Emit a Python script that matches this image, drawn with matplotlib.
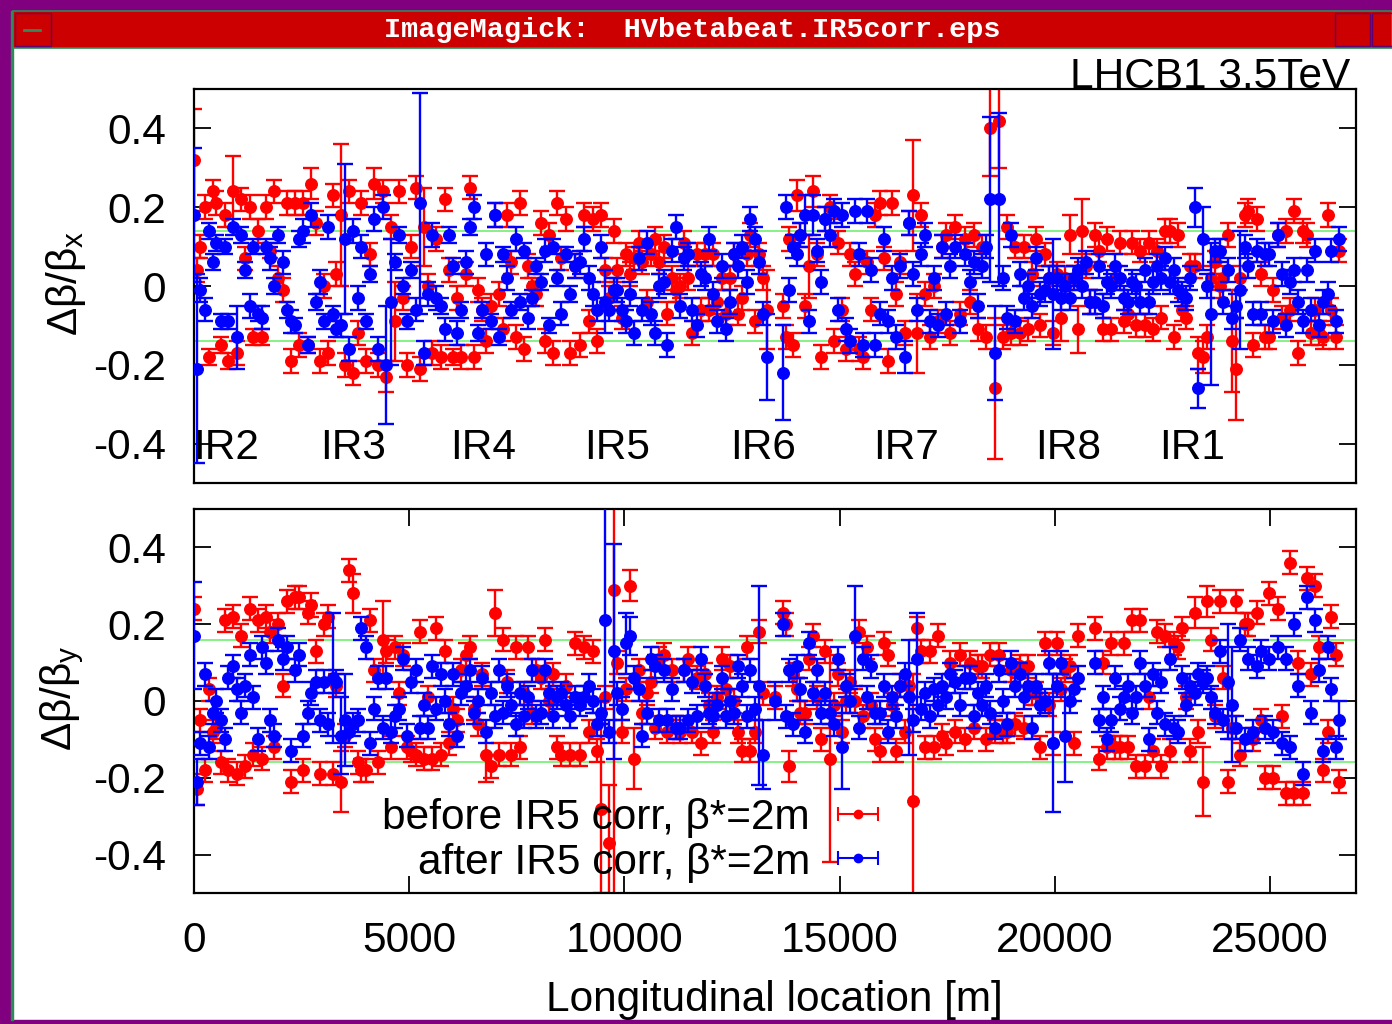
import numpy as np
import matplotlib
matplotlib.use('Agg')
import matplotlib.pyplot as plt
from matplotlib.patches import Rectangle

nan = float('nan')

# BPM positions [m], shared by both planes
s_pos = [
    5, 60, 150, 250, 340, 440,
    520, 620, 710, 800, 900, 1000,
    1100, 1190, 1290, 1380, 1480, 1570,
    1680, 1770, 1870, 1960, 2060, 2150,
    2260, 2350, 2450, 2540, 2640, 2730,
    2840, 2930, 3030, 3120, 3220, 3310,
    3420, 3510, 3610, 3700, 3800, 3890,
    4000, 4090, 4190, 4280, 4380, 4470,
    4580, 4670, 4770, 4860, 4960, 5050,
    5160, 5250, 5350, 5440, 5540, 5630,
    5740, 5830, 5930, 6020, 6120, 6210,
    6320, 6410, 6510, 6600, 6700, 6790,
    6900, 6990, 7090, 7180, 7280, 7370,
    7480, 7570, 7670, 7760, 7860, 7950,
    8060, 8150, 8250, 8340, 8440, 8530,
    8640, 8740, 8850,
    8980, 9070, 9170, 9260, 9360, 9450,
    9560, 9650, 9750, 9840, 9940, 10030,
    10140, 10230, 10330, 10420, 10520, 10610,
    10720, 10810, 10910, 11000, 11100, 11190,
    11300, 11390, 11490, 11580, 11680, 11770,
    11880, 11970, 12070, 12160, 12260, 12350,
    12460, 12550, 12650, 12740, 12840, 12930,
    13040, 13130, 13230, 13320, 13420, 13510,
    13680, 13750, 13830, 13910, 14000, 14090,
    14200, 14290, 14390, 14480, 14580, 14670,
    14780, 14870, 14970, 15060, 15160, 15250,
    15360, 15450, 15550, 15640, 15740, 15830,
    15940, 16030, 16130, 16220, 16320, 16410,
    16520, 16610, 16710, 16800, 16900, 16990,
    17100, 17190, 17290, 17380, 17480, 17570,
    17690, 17800, 17910,
    18030, 18120, 18220, 18310, 18410, 18500,
    18610, 18700, 18800, 18890, 18990, 19080,
    19190, 19280, 19380, 19470, 19570, 19660,
    19770, 19860, 19960, 20050, 20150, 20240,
    20350, 20440, 20540, 20630, 20730, 20820,
    20930, 21020, 21120, 21210, 21310, 21400,
    21510, 21600, 21700, 21790, 21890, 21980,
    22090, 22180, 22280, 22370, 22470, 22560,
    22670, 22760, 22860, 22950, 23050, 23140,
    23250, 23340, 23440, 23530, 23630, 23720,
    23830, 23920, 24020, 24110, 24210, 24300,
    24410, 24500, 24600, 24690, 24790, 24880,
    24990, 25080, 25180, 25270, 25370, 25460,
    25570, 25660, 25760, 25850, 25950, 26040,
    26150, 26240, 26340, 26430, 26530, 26610,
]

# horizontal beta-beating, values in percent
bx_before = [
    32, 4, 10, 20, -18, 24,
    21, -15, 18, -19, 24, -17,
    22, 7, 20, -13, 14, -13,
    20, 9, 24, 2, -1, 21,
    -19, 21, -15, 21, -15, 26,
    16, -19, 0, -17, 23, 3,
    18, -20, 24, -22, -12, 21,
    -19, 8, 26, -20, 24, -23,
    15, -9, 24, -3, -20, 10,
    25, -21, 15, 0, -17, 12,
    -18, 22, 4, -18, -3, -18,
    3, 25, -18, -1, -6, -14,
    -5, 18, -2, -11, 18, 6,
    -13, 21, -16, 5, 0, -2,
    16, -14, 13, -17, 21, 7,
    17, -17, 5,
    -15, 18, -9, 17, -14, 18,
    4, -3, 14, 4, -8, 8,
    3, 7, 11, 6, -4, 8,
    12, 6, 10, -7, 2, -1,
    0, 11, 2, -12, 8, -6,
    8, -6, 8, -4, 2, -7,
    2, 8, -7, -3, 8, 13,
    -9, 8, 2, -6, nan, nan,
    -5, -13, 12, -15, 23, 13,
    -5, 5, 24, 8, -18, 17,
    20, -14, 11, -6, -16, 8,
    3, -16, -18, 6, -6, 18,
    21, 7, -19, 21, -2, 6,
    -12, 16, 23, -12, 18, -2,
    -13, 0, -9, 10, 13, -12,
    15, -7, 12,
    -4, 13, -11, 10, -13, 40,
    -26, 42, -13, 15, -12, 10,
    -12, 10, -11, 3, 12, -10,
    8, 2, -12, 3, -8, 2,
    13, 2, -11, 14, 5, -4,
    13, 9, -11, 12, -11, 2,
    11, -9, -7, 11, -10, 9,
    -10, 11, -11, 9, -8, 14,
    14, -13, 13, -6, -8, 5,
    5, -17, -18, -13, 2, 6,
    0, 2, 13, -14, -21, 2,
    18, 19, -15, 17, 3, -13,
    -13, -1, 13, -8, 14, -6,
    19, -17, 14, 13, -12, -6,
    -12, -13, 18, -6, -13, 9,
]
bx_before_err = [
    13, 3, 3, 3, 2, 3,
    3, 2, 3, 2, 9, 3,
    3, 3, 3, 2, 3, 2,
    3, 2, 3, 3, 3, 3,
    3, 3, 3, 3, 2, 4,
    3, 3, 3, 3, 3, 3,
    18, 3, 3, 3, 3, 3,
    3, 3, 4, 3, 3, 4,
    3, 10, 3, 3, 3, 3,
    3, 3, 10, 3, 3, 3,
    3, 3, 3, 2, 3, 3,
    3, 3, 3, 3, 3, 3,
    3, 3, 3, 3, 3, 3,
    3, 3, 3, 3, 2, 3,
    3, 3, 3, 3, 3, 3,
    3, 3, 3,
    3, 3, 3, 3, 3, 3,
    3, 3, 3, 3, 3, 3,
    3, 3, 3, 3, 3, 3,
    3, 3, 3, 3, 3, 3,
    3, 3, 3, 3, 3, 3,
    3, 3, 3, 3, 3, 3,
    3, 3, 3, 3, 3, 3,
    3, 3, 3, 10, 3, 3,
    3, 3, 3, 3, 4, 3,
    3, 8, 4, 3, 3, 3,
    3, 3, 3, 3, 3, 3,
    3, 3, 3, 3, 3, 3,
    3, 3, 3, 3, 3, 3,
    3, 3, 14, 10, 3, 3,
    3, 3, 3, 3, 3, 3,
    3, 3, 3,
    3, 3, 3, 3, 3, 12,
    18, 12, 3, 3, 3, 3,
    3, 3, 3, 3, 3, 3,
    3, 3, 3, 3, 6, 3,
    5, 3, 6, 8, 3, 3,
    3, 3, 3, 3, 3, 3,
    3, 3, 3, 3, 3, 3,
    3, 3, 3, 3, 3, 3,
    3, 3, 3, 3, 3, 3,
    3, 4, 4, 3, 3, 3,
    3, 3, 3, 13, 13, 3,
    3, 3, 3, 3, 3, 3,
    3, 3, 3, 3, 3, 3,
    3, 3, 3, 3, 3, 3,
    3, 3, 3, 3, 3, 3,
]
bx_after = [
    18, -21, -1, -6, 14, 6,
    11, -9, 10, -9, 15, -13,
    13, 4, -5, 10, -7, -8,
    10, 7, 0, 13, 6, -6,
    -9, -10, 12, 14, -15, 18,
    -4, 1, -9, 15, -7, -11,
    -10, 12, -16, 14, -3, 10,
    -9, 3, 17, -16, 20, -20,
    -4, 6, 13, 0, -9, 4,
    -6, 21, -17, -2, 13, -3,
    -5, -11, 13, 5, -12, -6,
    6, 15, 20, -12, -6, 8,
    -9, 18, -13, 8, 2, -6,
    12, -4, 9, -8, -3, 5,
    1, 9, -10, 10, 2, -7,
    8, -2, 5,
    6, 12, 2, -2, -6, 10,
    -4, -6, -1, -1, -6, -9,
    -2, -12, 7, -6, 11, -7,
    -12, 0, 1, -15, 9, 15,
    -5, 7, 8, -6, -10, 3,
    2, 12, -2, -9, 5, -11,
    -4, 8, 5, 10, 1, 17,
    12, 6, -7, -18, nan, nan,
    -22, 20, -1, 10, 8, 13,
    18, -9, 18, 9, 1, 17,
    13, 19, -6, 18, -11, -14,
    19, 8, -15, 19, 4, -15,
    -7, 12, -9, 2, -13, 5,
    -18, 16, 3, -6, 8, 13,
    -9, 2, -10, 10, -7, 5,
    10, -9, 8,
    1, 6, -5, 5, 10, 22,
    -17, 22, 2, -8, 13, -9,
    3, -3, 0, -5, 7, -2,
    -1, 2, -2, 2, -3, 0,
    -3, 2, 4, 0, 6, -4,
    -4, 5, -5, 1, 0, 5,
    2, -3, -4, 1, 0, -4,
    4, -4, 1, 5, 2, 7,
    1, 4, -1, -2, -3, 2,
    20, -26, 12, 0, -7, 9,
    9, -4, 4, -8, -5, -1,
    10, 5, -7, 9, -7, 8,
    8, -9, 13, 3, -10, 1,
    4, -4, -9, 4, -6, 9,
    -10, -4, -2, 9, -9, 12,
]
bx_after_err = [
    17, 24, 3, 3, 2, 2,
    2, 2, 2, 2, 2, 8,
    2, 2, 3, 2, 2, 3,
    2, 3, 2, 2, 3, 2,
    3, 2, 2, 3, 2, 3,
    2, 3, 2, 3, 2, 2,
    3, 19, 3, 3, 3, 3,
    2, 2, 3, 3, 3, 15,
    16, 2, 2, 2, 2, 2,
    3, 28, 3, 3, 3, 3,
    2, 3, 2, 2, 3, 2,
    3, 2, 3, 2, 2, 3,
    2, 3, 2, 2, 3, 2,
    3, 2, 2, 3, 2, 2,
    2, 3, 2, 2, 2, 3,
    2, 2, 3,
    3, 3, 3, 3, 3, 3,
    8, 3, 3, 3, 3, 3,
    3, 3, 3, 3, 3, 3,
    3, 3, 3, 3, 3, 3,
    3, 3, 3, 3, 3, 3,
    3, 3, 3, 3, 3, 3,
    3, 3, 3, 3, 3, 3,
    3, 3, 3, 11, 3, 3,
    12, 3, 3, 3, 3, 3,
    5, 3, 5, 3, 3, 3,
    3, 3, 3, 3, 3, 3,
    3, 3, 3, 3, 3, 3,
    3, 3, 3, 3, 3, 3,
    4, 3, 3, 3, 3, 3,
    3, 3, 3, 3, 3, 3,
    3, 3, 3,
    3, 3, 3, 3, 3, 21,
    12, 22, 3, 3, 3, 3,
    3, 3, 3, 3, 3, 3,
    3, 3, 14, 3, 3, 3,
    3, 3, 3, 3, 3, 3,
    3, 3, 3, 3, 3, 3,
    3, 3, 3, 3, 3, 3,
    3, 3, 3, 3, 3, 3,
    3, 3, 3, 3, 3, 3,
    5, 5, 8, 3, 18, 3,
    3, 3, 3, 3, 3, 15,
    3, 3, 3, 3, 3, 3,
    3, 3, 3, 3, 3, 3,
    3, 3, 3, 3, 3, 3,
    3, 3, 3, 3, 3, 3,
]

# vertical beta-beating, values in percent
by_before = [
    24, -23, -5, -18, 3, -8,
    -7, -16, 21, -18, 22, -19,
    17, -17, 24, -14, 21, -15,
    22, 18, -12, 20, 4, 26,
    -21, 27, 27, -18, 23, 25,
    13, -19, 20, 22, -19, 4,
    -21, -9, 34, 28, -16, -18,
    -18, 21, 8, -16, 16, 13,
    -12, 14, 2, 12, -12, -13,
    -14, 18, -15, 1, -15, 19,
    -14, 13, -11, -2, -5, 8,
    12, 14, -2, -6, 7, -14,
    -17, 23, -14, 16, 5, -14,
    14, -12, 2, 14, -3, 8,
    6, 16, 0, 7, -12, -14,
    4, -14, 15,
    -14, 14, -8, 13, -13, -28,
    1, -37, 29, 10, -8, 3,
    30, -15, 8, -3, 2, 5,
    -7, 11, 12, -8, 8, -7,
    -8, 8, 11, -8, 6, -11,
    7, -1, -8, 1, 11, 3,
    9, 0, -8, -13, 14, -13,
    -8, 18, 2, nan, nan, 1,
    23, 20, -17, 7, 3, -3,
    -3, 11, 17, 1, -10, 13,
    -15, -1, 7, -8, 0, 5,
    0, 18, -4, 14, -1, -10,
    -13, 15, 12, -1, -13, 4,
    -8, 4, -26, 19, 13, -12,
    13, -12, 17, -9, -11, 10,
    -8, 12, -10,
    10, -7, 9, 9, -10, 12,
    -8, 12, -8, -8, 8, -6,
    9, -7, 9, 2, 2, -12,
    15, -1, -11, 15, 3, 8,
    9, -11, 17, nan, nan, nan,
    19, -15, 10, -12, 15, -12,
    -12, 15, -12, 21, -17, 21,
    -17, 1, -13, 18, -17, 17,
    -13, 15, 14, 19, 1, -13,
    23, -8, -21, 26, 16, -4,
    26, 6, -21, -7, 26, -14,
    20, 20, -10, 23, -5, -20,
    28, -20, 24, -4, -24, 36,
    -24, 10, -24, 32, 7, 30,
    14, -18, -8, 22, 12, -21,
]
by_before_err = [
    3, 4, 3, 3, 3, 3,
    3, 3, 3, 3, 3, 3,
    3, 3, 3, 3, 3, 3,
    3, 3, 3, 3, 3, 3,
    3, 3, 3, 3, 3, 3,
    3, 3, 3, 3, 3, 3,
    8, 3, 3, 5, 3, 3,
    3, 3, 3, 3, 10, 3,
    3, 3, 3, 3, 3, 3,
    3, 3, 3, 3, 3, 3,
    3, 3, 3, 3, 3, 3,
    3, 3, 3, 3, 3, 7,
    3, 6, 3, 3, 3, 3,
    3, 3, 3, 3, 3, 3,
    3, 3, 3, 3, 3, 3,
    3, 3, 3,
    3, 3, 3, 3, 3, 22,
    3, 15, 80, 3, 3, 3,
    4, 8, 3, 3, 3, 3,
    3, 3, 3, 3, 3, 3,
    3, 3, 3, 3, 3, 3,
    3, 3, 3, 3, 3, 3,
    3, 3, 3, 3, 3, 3,
    3, 3, 3, 3, 3, 3,
    3, 3, 4, 3, 3, 3,
    3, 3, 3, 3, 3, 3,
    27, 3, 3, 3, 3, 3,
    3, 3, 3, 3, 3, 3,
    3, 3, 3, 3, 3, 3,
    3, 3, 33, 3, 3, 3,
    3, 3, 3, 3, 3, 3,
    3, 3, 3,
    3, 3, 3, 3, 3, 3,
    3, 3, 3, 3, 3, 3,
    3, 3, 3, 3, 3, 3,
    3, 3, 3, 3, 3, 3,
    3, 3, 3, 3, 3, 3,
    3, 3, 3, 3, 3, 3,
    3, 3, 3, 3, 3, 3,
    3, 3, 3, 3, 3, 3,
    3, 3, 3, 3, 3, 3,
    4, 3, 9, 4, 3, 3,
    3, 3, 3, 3, 3, 3,
    3, 3, 3, 3, 3, 3,
    3, 3, 3, 3, 3, 3,
    3, 3, 3, 3, 3, 3,
    3, 3, 3, 3, 3, 3,
]
by_after = [
    17, -21, -11, 7, -12, -3,
    0, -5, -10, 6, 9, 3,
    -3, 4, 12, 1, -10, 14,
    10, -5, -9, 16, 11, 14,
    -13, 8, 12, -9, -3, 2,
    5, -5, 5, -6, 6, 5,
    -9, -5, -8, -6, -5, 19,
    14, -11, -2, 6, -7, 6,
    -8, -4, -2, 11, -9, 5,
    8, -7, -1, -7, 9, -2,
    7, 0, -6, 7, -9, 2,
    4, 8, -3, 0, 6, -8,
    2, -4, 8, -3, 4, -1,
    -6, 2, -4, 1, 8, -4,
    -3, 8, 2, -4, 1, 2,
    -1, -4, 1,
    -1, 1, 4, 0, -6, -3,
    21, -8, 13, 2, -2, 15,
    17, 6, 3, -9, -3, 11,
    9, -5, 8, -5, 3, -7,
    -7, 8, -5, 5, -4, 11,
    4, -3, -4, -1, 6, -4,
    0, -3, 9, 4, -4, 8,
    -2, 4, -14, nan, nan, 0,
    20, -4, 8, -6, 9, 3,
    -8, 15, 2, 8, -3, 2,
    -3, -6, 11, -12, 4, 0,
    17, -7, 11, 1, 9, -3,
    -3, 4, -8, 1, -4, 4,
    7, 1, -5, 11, -2, 2,
    -4, 3, -1, 4, 1, 7,
    5, -1, 6,
    6, -4, 2, -1, 4, -3,
    -7, 8, 0, -6, 10, 4,
    7, 1, 4, -7, 4, -1,
    0, 10, -11, 4, 10, -9,
    0, 3, 6, nan, nan, nan,
    10, -5, 1, -10, -5, 6,
    -2, 1, 4, -3, 1, 10,
    4, -10, 7, -3, 5, -6,
    11, -7, -8, 6, -1, 4,
    2, 7, 5, 6, 1, -3,
    13, -5, 5, -1, -7, 16,
    -10, 11, -8, 9, 13, -7,
    11, -8, 14, -11, 11, -12,
    20, 4, -19, 27, -3, 21,
    8, -13, 14, 3, -12, -5,
]
by_after_err = [
    14, 6, 3, 3, 3, 3,
    3, 3, 3, 3, 3, 3,
    3, 3, 3, 3, 3, 3,
    3, 3, 3, 3, 3, 3,
    3, 3, 3, 3, 3, 3,
    3, 3, 3, 3, 17, 3,
    10, 12, 3, 3, 3, 3,
    3, 3, 3, 3, 3, 3,
    3, 3, 3, 3, 3, 3,
    3, 3, 3, 3, 3, 3,
    3, 3, 3, 3, 3, 3,
    3, 3, 3, 3, 3, 3,
    3, 3, 3, 3, 3, 3,
    3, 3, 3, 3, 3, 3,
    3, 3, 3, 3, 3, 3,
    3, 3, 3,
    3, 3, 3, 3, 3, 3,
    30, 3, 28, 3, 3, 8,
    5, 3, 3, 3, 3, 3,
    3, 3, 3, 3, 3, 3,
    3, 3, 3, 3, 3, 3,
    3, 3, 3, 3, 3, 3,
    3, 3, 3, 3, 3, 3,
    3, 26, 9, 3, 3, 5,
    3, 3, 3, 3, 3, 3,
    3, 3, 3, 3, 3, 3,
    3, 3, 3, 11, 3, 3,
    13, 3, 3, 3, 3, 3,
    3, 3, 3, 3, 3, 3,
    3, 15, 3, 12, 3, 3,
    3, 3, 3, 3, 3, 3,
    3, 3, 3,
    3, 3, 3, 3, 3, 3,
    3, 3, 3, 3, 3, 3,
    3, 3, 3, 3, 3, 3,
    3, 3, 18, 3, 3, 12,
    3, 3, 3, 3, 3, 3,
    3, 3, 3, 3, 3, 3,
    3, 3, 3, 3, 3, 3,
    3, 3, 3, 3, 3, 3,
    3, 3, 3, 3, 3, 3,
    3, 3, 3, 3, 3, 3,
    3, 3, 15, 15, 3, 3,
    3, 3, 3, 3, 3, 3,
    3, 3, 3, 3, 3, 3,
    3, 3, 3, 3, 3, 3,
    3, 3, 3, 3, 3, 5,
]

ir_names = ['IR2', 'IR3', 'IR4', 'IR5', 'IR6', 'IR7', 'IR8', 'IR1']
ir_pos = [740, 3690, 6710, 9830, 13220, 16540, 20300, 23190]
band_x = 0.14
band_y = 0.16
y_ticks = [-0.4, -0.2, 0, 0.2, 0.4]
y_ticklabels = ['-0.4', '-0.2', '0', '0.2', '0.4']
x_ticks = [0, 5000, 10000, 15000, 20000, 25000]

plt.rcParams['font.family'] = ['Liberation Sans', 'DejaVu Sans']
plt.rcParams['mathtext.fontset'] = 'custom'
plt.rcParams['mathtext.rm'] = 'Liberation Sans'
plt.rcParams['mathtext.it'] = 'Liberation Sans'
plt.rcParams['axes.unicode_minus'] = False

FS = 30.5
W, H = 1392, 1024
fig = plt.figure(figsize=(W / 100, H / 100), dpi=100)

# window frame drawn in pixel coordinates
frame = fig.add_axes([0, 0, 1, 1], zorder=-5)
frame.set_xlim(0, W)
frame.set_ylim(H, 0)
frame.axis('off')
frame.add_patch(Rectangle((0, 0), W, 11, color='#800080'))
frame.add_patch(Rectangle((0, 0), 11, H, color='#800080'))
frame.add_patch(Rectangle((0, H - 4), W, 4, color='#800080'))
frame.add_patch(Rectangle((11, 11), 2, H - 15, color='#2e8b57'))
frame.add_patch(Rectangle((13, 11), W - 13, 37, color='#cc0000', ec='#2e8b57', lw=1.2))
frame.add_patch(Rectangle((15, 13), 36, 33, fill=False, ec='#600070', lw=1))
frame.add_patch(Rectangle((1335, 13), 35, 33, fill=False, ec='#600070', lw=1))
frame.add_patch(Rectangle((1372, 13), 25, 33, fill=False, ec='#600070', lw=1))
frame.plot([24, 40], [30, 30], color='#2e8b57', lw=2)
frame.text(692, 30, 'ImageMagick:  HVbetabeat.IR5corr.eps', color='white',
           family='Liberation Mono', weight='bold', fontsize=20.5,
           ha='center', va='center')

s = np.array(s_pos)
ax1 = fig.add_axes([194 / W, 1 - 483 / H, 1162 / W, 394 / H])
ax2 = fig.add_axes([194 / W, 1 - 893 / H, 1162 / W, 384 / H])

panels = [
    (ax1, bx_before, bx_before_err, bx_after, bx_after_err, band_x),
    (ax2, by_before, by_before_err, by_after, by_after_err, band_y),
]
for ax, before, before_err, after, after_err, band in panels:
    ax.axhline(band, color='#7cf07c', lw=1.3, zorder=1)
    ax.axhline(-band, color='#7cf07c', lw=1.3, zorder=1)
    ax.errorbar(s, np.array(before) / 100, yerr=np.array(before_err) / 100,
                fmt='o', color='red', ms=8.3, elinewidth=1.7, capsize=5.5,
                capthick=1.7, zorder=2)
    ax.errorbar(s, np.array(after) / 100, yerr=np.array(after_err) / 100,
                fmt='o', color='blue', ms=8.3, elinewidth=1.7, capsize=5.5,
                capthick=1.7, zorder=3)
    ax.set_xlim(0, 27000)
    ax.set_ylim(-0.5, 0.5)
    ax.set_yticks(y_ticks)
    ax.set_yticklabels(y_ticklabels)
    ax.tick_params(axis='y', direction='in', length=12, width=1.3,
                   right=True, labelsize=FS, pad=20)
    for sp in ax.spines.values():
        sp.set_linewidth(1.6)

ax1.tick_params(axis='x', bottom=False, labelbottom=False)
ax2.set_xticks(x_ticks)
ax2.set_xticklabels([str(t) for t in x_ticks])
ax2.tick_params(axis='x', direction='in', length=12, width=1.3, top=True,
                labelsize=FS, pad=20)

for name, pos in zip(ir_names, ir_pos):
    ax1.text(pos, -0.4, name, fontsize=FS, ha='center', va='center_baseline')

# legend in gnuplot style: right-aligned text, horizontal error-bar key
legend_rows = [('before IR5 corr, \u03b2*=2m', 'red', 0.206),
               ('after IR5 corr, \u03b2*=2m', 'blue', 0.090)]
for label, col, yy in legend_rows:
    ax2.text(0.530, yy, label, transform=ax2.transAxes, fontsize=FS,
             ha='right', va='center_baseline')
    ax2.plot([0.554, 0.589], [yy, yy], transform=ax2.transAxes, color=col, lw=1.5)
    ax2.plot([0.554, 0.589], [yy, yy], transform=ax2.transAxes, ls='none',
             marker='|', ms=10, mew=1.5, color=col)
    ax2.plot([0.5715], [yy], transform=ax2.transAxes, marker='o', ms=6, color=col)

fig.text(66 / W, 1 - 283 / H, r'$\Delta\beta/\beta_x$', rotation=90,
         fontsize=FS, ha='center', va='center')
fig.text(62 / W, 1 - 698 / H, r'$\Delta\beta/\beta_y$', rotation=90,
         fontsize=FS, ha='center', va='center')
fig.text(1350 / W, 1 - 88 / H, 'LHCB1 3.5TeV', fontsize=FS,
         ha='right', va='baseline')
fig.text(774 / W, 1 - 1000 / H, 'Longitudinal location [m]', fontsize=FS,
         ha='center', va='center')

fig.savefig('out.png', dpi=100)
